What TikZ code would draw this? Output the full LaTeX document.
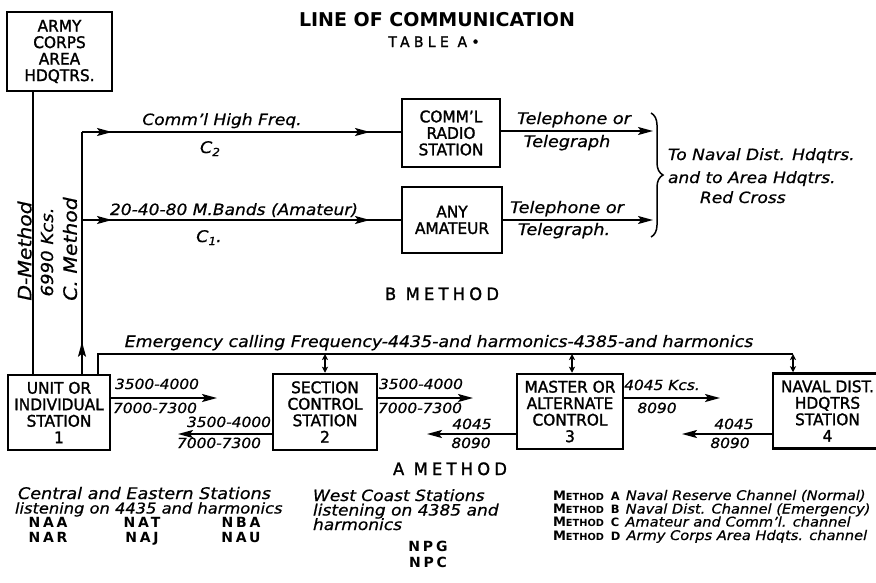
\documentclass[tikz,border=0pt]{standalone}
\usepackage{fontspec}
\usetikzlibrary{arrows.meta,decorations.markings,decorations.pathreplacing,calc}
\newfontfamily\capsfont{DejaVu Sans}[FakeBold=1.5, FakeStretch=0.96]
\newfontfamily\boldcaps{DejaVu Sans}[UprightFont=* Bold]
\newfontfamily\hand{DejaVu Sans}[UprightFont=* Oblique, FakeStretch=1.1, FakeBold=0.6]
\newcommand\boxfont{\capsfont\fontsize{16}{16.5}\selectfont}
\newcommand\legmeth[1]{{\boldcaps\fontsize{13}{12}\selectfont M\fontsize{9.8}{12}\selectfont ETHOD}\hspace{7pt}{\boldcaps\fontsize{11.5}{12}\selectfont #1}\hspace{6pt}}
\newcommand\subn[1]{\raisebox{-3pt}{\fontsize{11}{11}\selectfont #1}}
\begin{document}
\begin{tikzpicture}[x=1pt,y=-1pt,
  tipA/.tip={Stealth[length=15pt,width=8pt,inset=3pt]},
  tipS/.tip={Stealth[length=6pt,width=6pt,inset=1.5pt]},
  conn/.style={line width=1.7pt},
  ma/.style={postaction={decorate,decoration={markings,mark=at position #1 with {\arrow{tipA}}}}},
  box/.style={draw,line width=2.5pt,align=center,inner sep=0pt,font=\boxfont},
  hl/.style={inner sep=0pt,outer sep=0pt},
  hf/.style={hl,font=\hand\fontsize{#1}{#1}\selectfont},
  codes/.style={hl,anchor=base,font=\boldcaps\fontsize{14}{14}\selectfont\addfontfeature{LetterSpace=20}},
  spaced/.style={hl,anchor=base,font=\capsfont\fontsize{#1}{#1}\selectfont\addfontfeature{LetterSpace=25}}
]
\useasboundingbox (0,0) rectangle (876,582);
\fill[white] (0,0) rectangle (876,582);

% titles
\node[hl,anchor=base,font=\boldcaps\fontsize{19}{19}\selectfont] (title) at (437,26) {LINE OF COMMUNICATION};
\node[hl,anchor=base,font=\capsfont\fontsize{14.5}{14}\selectfont\addfontfeature{LetterSpace=30}] (tab) at (434,47) {TABLE A•};

% boxes
\node[box,minimum width=105pt,minimum height=79pt] (army) at (59.5,51.5) {ARMY\\CORPS\\AREA\\HDQTRS.};
\node[box,minimum width=98pt,minimum height=68pt] (comm) at (451,133) {COMM’L\\RADIO\\STATION};
\node[box,minimum width=100pt,minimum height=66pt] (any) at (452,220) {ANY\\AMATEUR};
\node[box,minimum width=102pt,minimum height=75pt] (unit) at (59,412.5) {UNIT OR\\INDIVIDUAL\\STATION\\1};
\node[box,minimum width=104pt,minimum height=76pt] (sect) at (325,412) {SECTION\\CONTROL\\STATION\\2};
\node[box,minimum width=106pt,minimum height=75pt] (master) at (570,411.5) {MASTER OR\\ALTERNATE\\CONTROL\\3};
\node[box,minimum width=109pt,minimum height=75pt] (naval) at (827.5,411) {NAVAL DIST.\\HDQTRS\\STATION\\4};

% D and C methods
\coordinate (xD) at (33,0);
\draw[conn] (xD |- army.south) -- (xD |- unit.north);
\coordinate (c2) at (82,132);
\coordinate (c1) at (82,220);
\draw[conn,ma=32pt] (c2 |- unit.north) -- (c2);
\draw[conn,ma=30pt,ma=288pt] (c2) -- (c2 -| comm.west);
\draw[conn,ma=30pt,ma=288pt] (c1) -- (c1 -| any.west);

\coordinate (t1) at (653,131);
\coordinate (t2) at (653,220);
\draw[conn,-{tipA}] (t1 -| comm.east) -- (t1);
\draw[conn,-{tipA}] (t2 -| any.east) -- (t2);

\coordinate (br1) at (651,113);
\coordinate (br2) at (651,237);
\draw[line width=1.5pt,decorate,decoration={brace,amplitude=12pt}] (br1) -- (br2);

% emergency line
\coordinate (em0) at (98,354);
\coordinate (em1) at (793,354);
\coordinate (d2) at (325,354);
\coordinate (d3) at (572,354);
\draw[conn] (em0 |- unit.north) -- (em0) -- (em1);
\draw[conn,{tipS}-{tipS}] (d2) -- (d2 |- sect.north);
\draw[conn,{tipS}-{tipS}] (d3) -- (d3 |- master.north);
\draw[conn,{tipS}-{tipS}] (em1) -- (em1 |- naval.north);

% A method arrows
\coordinate (r1) at (217,398); \draw[conn,-{tipA}] (r1 -| unit.east) -- (r1);
\coordinate (l1) at (178,434); \draw[conn,-{tipA}] (l1 -| sect.west) -- (l1);
\coordinate (r2) at (473,398); \draw[conn,-{tipA}] (r2 -| sect.east) -- (r2);
\coordinate (l2) at (427,434); \draw[conn,-{tipA}] (l2 -| master.west) -- (l2);
\coordinate (r3) at (720,398); \draw[conn,-{tipA}] (r3 -| master.east) -- (r3);
\coordinate (l3) at (682,434); \draw[conn,-{tipA}] (l3 -| naval.west) -- (l3);

% labels upper part
\node[hf=15.5,anchor=base] (lc2) at (222,125) {Comm’l High Freq.};
\node[hf=16,anchor=base] (lc2b) at (210,153) {C\subn{2}};
\node[hf=15.5,anchor=base] (lc1) at (234,215) {20-40-80 M.Bands (Amateur)};
\node[hf=16,anchor=base] (lc1b) at (209,242) {C\subn{1}.};
\node[hf=16,anchor=base] (tp1) at (574,124) {Telephone or};
\node[hf=16,anchor=base] (tg1) at (567,147) {Telegraph};
\node[hf=16,anchor=base] (tp2) at (567,213) {Telephone or};
\node[hf=16,anchor=base] (tg2) at (564,235) {Telegraph.};
\node[hf=15.5,anchor=base west] (to1) at (668,160) {To Naval Dist. Hdqtrs.};
\node[hf=15.5,anchor=base west] (to2) at (668,183) {and to Area Hdqtrs.};
\node[hf=15.5,anchor=base west] (to3) at (700,203) {Red Cross};

\node[hf=18.5,rotate=90] (dm) at (24.5,251) {D-Method};
\node[hf=16.5,rotate=90] (kcs) at (47,252) {6990 Kcs.};
\node[hf=18.5,rotate=90] (cm) at (70,249) {C. Method};

\node[spaced=17] (bm) at (442,300) {B METHOD};
\node[hf=15.8,anchor=base] (emtxt) at (439,347) {Emergency calling Frequency-4435-and harmonics-4385-and harmonics};

% A method labels
\node[hf=14,anchor=base] (n1) at (157,389) {3500-4000};
\node[hf=14,anchor=base] (n2) at (155,413) {7000-7300};
\node[hf=14,anchor=base] (n3) at (229,427) {3500-4000};
\node[hf=14,anchor=base] (n4) at (219,448) {7000-7300};
\node[hf=14,anchor=base] (n5) at (421,389) {3500-4000};
\node[hf=14,anchor=base] (n6) at (420,413) {7000-7300};
\node[hf=14,anchor=base] (n7) at (472,429) {4045};
\node[hf=14,anchor=base] (n8) at (471,448) {8090};
\node[hf=14,anchor=base] (n9) at (662,390) {4045 Kcs.};
\node[hf=14,anchor=base] (n10) at (657,413) {8090};
\node[hf=14,anchor=base] (n11) at (734,429) {4045};
\node[hf=14,anchor=base] (n12) at (730,448) {8090};

\node[spaced=17] (am) at (450,475) {A METHOD};

% bottom texts
\node[hf=16,anchor=base west] (ce1) at (18,499) {Central and Eastern Stations};
\node[hf=14.8,anchor=base west] (ce2) at (15,513.5) {listening on 4435 and harmonics};
\node[codes] (naa) at (48,527) {NAA};
\node[codes] (nat) at (142,527) {NAT};
\node[codes] (nba) at (241,527) {NBA};
\node[codes] (nar) at (48,542) {NAR};
\node[codes] (naj) at (142,542) {NAJ};
\node[codes] (nau) at (241,542) {NAU};

\node[hf=15.5,anchor=base west] (wc1) at (313,501) {West Coast Stations};
\node[hf=15.5,anchor=base west] (wc2) at (313,515.5) {listening on 4385 and};
\node[hf=15.5,anchor=base west] (wc3) at (313,530) {harmonics};
\node[codes] (npg) at (428,551) {NPG};
\node[codes] (npc) at (428,567) {NPC};

\node[hl,anchor=base west] (lgA) at (553,500) {\legmeth{A}\hand\fontsize{13.3}{14}\selectfont Naval Reserve Channel (Normal)};
\node[hl,anchor=base west] (lgB) at (553,513.5) {\legmeth{B}\hand\fontsize{13.3}{14}\selectfont Naval Dist. Channel (Emergency)};
\node[hl,anchor=base west] (lgC) at (553,526.5) {\legmeth{C}\hand\fontsize{13.3}{14}\selectfont Amateur and Comm’l. channel};
\node[hl,anchor=base west] (lgD) at (553,540) {\legmeth{D}\hand\fontsize{13.3}{14}\selectfont Army Corps Area Hdqts. channel};
\end{tikzpicture}
\end{document}
